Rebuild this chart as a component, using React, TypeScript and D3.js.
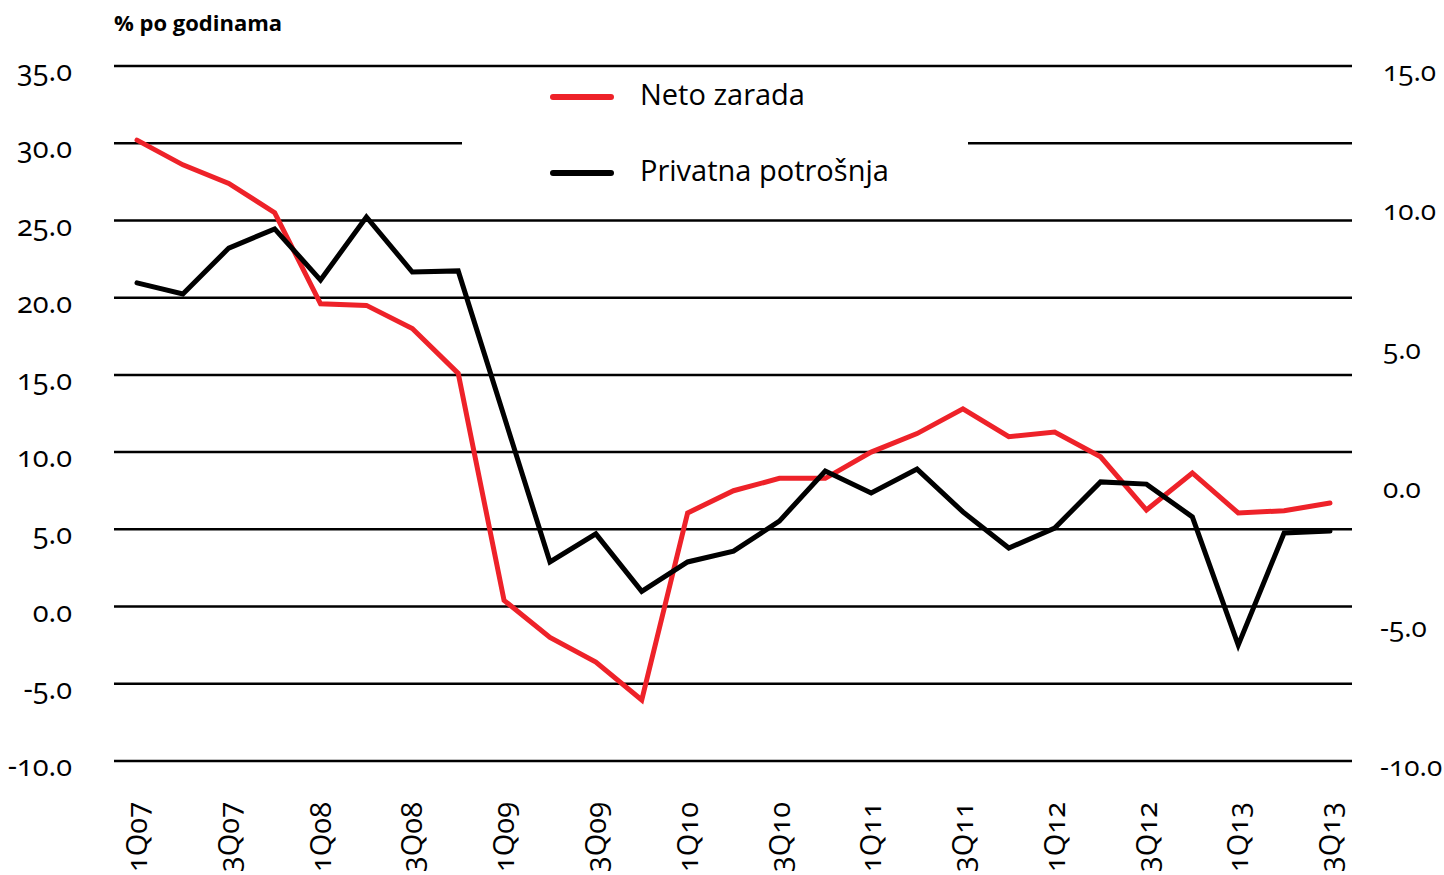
import React, { useEffect, useRef } from 'react';
import * as d3 from 'd3';

// kvartali 1Q07 - 3Q13
const quarters = [
  '1Q07', '2Q07', '3Q07', '4Q07',
  '1Q08', '2Q08', '3Q08', '4Q08',
  '1Q09', '2Q09', '3Q09', '4Q09',
  '1Q10', '2Q10', '3Q10', '4Q10',
  '1Q11', '2Q11', '3Q11', '4Q11',
  '1Q12', '2Q12', '3Q12', '4Q12',
  '1Q13', '2Q13', '3Q13',
];

// leva osa
const netoZarada = [
  30.2, 28.6, 27.4, 25.5, 19.6, 19.5, 18.0, 15.1,
  0.4, -2.0, -3.6, -6.05, 6.06, 7.5, 8.3, 8.3,
  10.0, 11.2, 12.8, 11.0, 11.3, 9.7, 6.25, 8.65,
  6.06, 6.2, 6.7,
];

// desna osa
const privatnaPotrosnja = [
  7.2, 6.8, 8.45, 9.14, 7.3, 9.57, 7.59, 7.63,
  2.4, -2.84, -1.83, -3.9, -2.84, -2.45, -1.37, 0.43,
  -0.36, 0.5, -1.04, -2.34, -1.62, 0.04, -0.04, -1.22,
  -5.83, -1.8, -1.73,
];

const leftTicks = [35, 30, 25, 20, 15, 10, 5, 0, -5, -10];
const rightTicks = [15, 10, 5, 0, -5, -10];

const FONT = "'Open Sans', 'Noto Sans', sans-serif";

const App = () => {
  const svgRef = useRef<SVGSVGElement>(null);

  useEffect(() => {
    const svg = d3.select(svgRef.current);
    svg.selectAll('*').remove();

    const W = 1444;
    const H = 875;
    const gx0 = 114, gx1 = 1352;
    const top = 66, bottom = 761;

    const x = d3.scalePoint<string>().domain(quarters).range([137, 1330]);
    const yL = d3.scaleLinear().domain([-10, 35]).range([bottom, top]);
    const yR = d3.scaleLinear().domain([-10, 15]).range([bottom, top]);

    svg.attr('width', W).attr('height', H).style('font-family', FONT);

    // naslov ose
    svg.append('text')
      .attr('x', 114).attr('y', 31)
      .attr('font-size', 22).attr('font-weight', 700)
      .text('% po godinama');

    // mreza
    svg.append('g').selectAll('line')
      .data(leftTicks)
      .enter().append('line')
      .attr('x1', gx0).attr('x2', gx1)
      .attr('y1', d => yL(d)).attr('y2', d => yL(d))
      .attr('stroke', '#000').attr('stroke-width', 2.5);

    // leve oznake
    svg.append('g').selectAll('text')
      .data(leftTicks)
      .enter().append('text')
      .attr('x', 72).attr('y', d => yL(d) + 5)
      .attr('dy', '0.35em')
      .attr('text-anchor', 'end')
      .attr('font-size', 29)
      .style('font-variant-numeric', 'oldstyle-nums')
      .text(d => d.toFixed(1));

    // desne oznake
    svg.append('g').selectAll('text')
      .data(rightTicks)
      .enter().append('text')
      .attr('x', d => d < 0 ? 1380 : 1383).attr('y', d => yR(d) + 5)
      .attr('dy', '0.35em')
      .attr('font-size', 28)
      .style('font-variant-numeric', 'oldstyle-nums')
      .text(d => d.toFixed(1));

    // oznake kvartala (svaki drugi)
    svg.append('g').selectAll('text')
      .data(quarters.filter((_, i) => i % 2 === 0))
      .enter().append('text')
      .attr('transform', d => `translate(${x(d)},872) rotate(-90)`)
      .attr('dy', '0.35em')
      .attr('font-size', 29)
      .style('font-variant-numeric', 'oldstyle-nums')
      .text(d => d);

    // legenda (bela pozadina preko mreze)
    svg.append('rect')
      .attr('x', 462).attr('y', 80).attr('width', 506).attr('height', 128)
      .attr('fill', '#fff');

    const legend = [
      { name: 'Neto zarada', color: '#ee2229', y: 97 },
      { name: 'Privatna potrošnja', color: '#000', y: 173 },
    ];
    const lg = svg.append('g').selectAll('g')
      .data(legend).enter().append('g');
    lg.append('line')
      .attr('x1', 553).attr('x2', 611)
      .attr('y1', d => d.y).attr('y2', d => d.y)
      .attr('stroke', d => d.color).attr('stroke-width', 6)
      .attr('stroke-linecap', 'round');
    lg.append('text')
      .attr('x', 640).attr('y', d => d.y - 2)
      .attr('dy', '0.35em')
      .attr('font-size', 29)
      .text(d => d.name);

    // linije
    const lineL = d3.line<number>()
      .x((_, i) => x(quarters[i]) as number)
      .y(d => yL(d));
    const lineR = d3.line<number>()
      .x((_, i) => x(quarters[i]) as number)
      .y(d => yR(d));

    svg.append('path')
      .datum(netoZarada)
      .attr('d', lineL)
      .attr('fill', 'none')
      .attr('stroke', '#ee2229')
      .attr('stroke-width', 5)
      .attr('stroke-linecap', 'round');

    svg.append('path')
      .datum(privatnaPotrosnja)
      .attr('d', lineR)
      .attr('fill', 'none')
      .attr('stroke', '#000')
      .attr('stroke-width', 5)
      .attr('stroke-linecap', 'round');
  }, []);

  return (
    <svg ref={svgRef} style={{ position: 'absolute', left: 0, top: 0 }}></svg>
  );
};

export default App;
